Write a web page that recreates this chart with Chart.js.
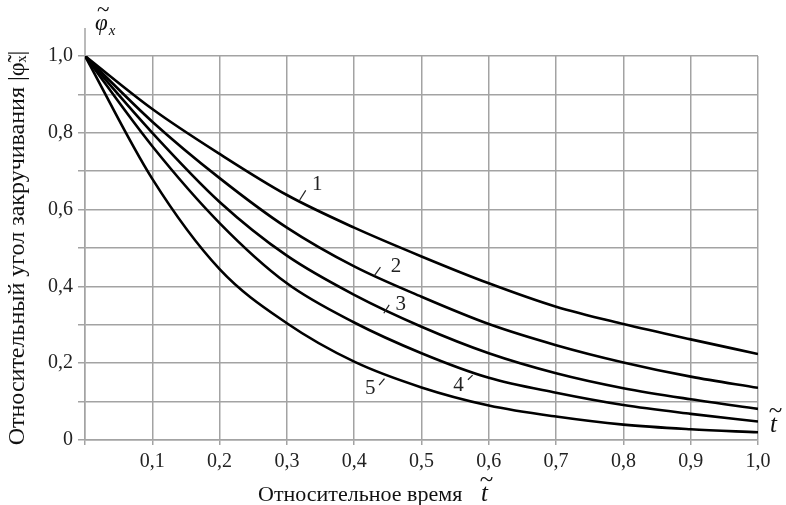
<!DOCTYPE html>
<html>
<head>
<meta charset="utf-8">
<script src="https://cdn.jsdelivr.net/npm/chart.js@4"></script>
<style>
  html, body { margin: 0; padding: 0; background: #fff; }
  #wrap { width: 786px; height: 505px; }
</style>
</head>
<body>
<div id="wrap"><canvas id="myChart" width="786" height="505"></canvas></div>
<script>
// relative time t
var xs = [0, 0.1, 0.2, 0.3, 0.4, 0.5, 0.6, 0.7, 0.8, 0.9, 1.0];

// relative twist angle, curves 1..5
var curve1 = [1, 0.862, 0.745, 0.638, 0.553, 0.478, 0.408, 0.347, 0.302, 0.262, 0.224];
var curve2 = [1, 0.829, 0.682, 0.553, 0.452, 0.373, 0.302, 0.247, 0.202, 0.165, 0.136];
var curve3 = [1, 0.800, 0.620, 0.480, 0.378, 0.295, 0.226, 0.174, 0.135, 0.106, 0.081];
var curve4 = [1, 0.765, 0.565, 0.408, 0.306, 0.226, 0.162, 0.123, 0.091, 0.068, 0.048];
var curve5 = [1, 0.680, 0.445, 0.304, 0.204, 0.137, 0.090, 0.061, 0.040, 0.028, 0.020];

var curveNames = ['1', '2', '3', '4', '5'];
// where the curve numbers sit (data coords) and their little leader strokes
var labelPos = [[0.345, 0.665], [0.462, 0.452], [0.469, 0.352], [0.555, 0.142], [0.424, 0.133]];
var leaderFrom = [[0.319, 0.625], [0.430, 0.428], [0.444, 0.330], [0.569, 0.157], [0.437, 0.143]];
var leaderTo = [[0.328, 0.650], [0.439, 0.450], [0.452, 0.352], [0.576, 0.169], [0.445, 0.160]];

var yTicksStep = 0.1;

function fmt(v) {
	if (Math.abs(v) < 1e-9) return '0';
	return v.toFixed(1).replace('.', ',');
}

function toPoints(ys) {
	return xs.map(function (x, i) { return { x: x, y: ys[i] }; });
}

var gridCol = '#a3a3a3';
var serif = '"Liberation Serif", "Times New Roman", serif';

// letter with a tilde drawn over it
function tildeText(ctx, ch, x, y, size) {
	ctx.font = 'italic ' + size + 'px ' + serif;
	ctx.fillText(ch, x, y);
	var w = ctx.measureText(ch).width;
	ctx.font = size + 'px ' + serif;
	ctx.textAlign = 'center';
	ctx.fillText('~', x + w / 2 + size * 0.08, y - size * 0.55);
	ctx.textAlign = 'left';
	return w;
}

var annotate = {
	id: 'annotate',
	afterDraw: function (chart) {
		var ctx = chart.ctx;
		var xS = chart.scales.x, yS = chart.scales.y;
		var area = chart.chartArea;
		ctx.save();

		// y axis keeps going above 1,0
		ctx.strokeStyle = gridCol;
		ctx.lineWidth = 1.5;
		ctx.beginPath();
		ctx.moveTo(area.left, area.top);
		ctx.lineTo(area.left, area.top - 28);
		ctx.stroke();

		// curve numbers
		ctx.fillStyle = '#222';
		ctx.strokeStyle = '#222';
		ctx.lineWidth = 1.2;
		ctx.font = '21px ' + serif;
		ctx.textAlign = 'center';
		ctx.textBaseline = 'middle';
		for (var i = 0; i < curveNames.length; i++) {
			ctx.fillText(curveNames[i], xS.getPixelForValue(labelPos[i][0]), yS.getPixelForValue(labelPos[i][1]));
			ctx.beginPath();
			ctx.moveTo(xS.getPixelForValue(leaderFrom[i][0]), yS.getPixelForValue(leaderFrom[i][1]));
			ctx.lineTo(xS.getPixelForValue(leaderTo[i][0]), yS.getPixelForValue(leaderTo[i][1]));
			ctx.stroke();
		}

		// phi label above the y axis
		ctx.fillStyle = '#111';
		ctx.textAlign = 'left';
		ctx.textBaseline = 'alphabetic';
		var w = tildeText(ctx, '\u03C6', area.left + 10, area.top - 26, 23);
		ctx.font = 'italic 15px ' + serif;
		ctx.fillText('x', area.left + 10 + w + 1, area.top - 21);

		// t at the end of x axis
		tildeText(ctx, 't', area.right + 12, area.bottom - 8, 25);

		// x axis title
		ctx.font = '22px ' + serif;
		ctx.fillText('Относительное время', 258, 501);
		tildeText(ctx, 't', 481, 501, 25);

		ctx.restore();
	}
};

var ctx = document.getElementById('myChart').getContext('2d');
var ds = [curve1, curve2, curve3, curve4, curve5].map(function (c, i) {
	return {
		label: curveNames[i],
		data: toPoints(c),
		borderColor: '#000',
		borderWidth: 2.6,
		pointRadius: 0,
		fill: false,
		cubicInterpolationMode: 'monotone'
	};
});

var chart = new Chart(ctx, {
	type: 'line',
	data: { datasets: ds },
	options: {
		responsive: false,
		animation: false,
		layout: { padding: { left: 3, right: 28, top: 56, bottom: 0 } },
		plugins: {
			legend: { display: false },
			tooltip: { enabled: false }
		},
		scales: {
			x: {
				type: 'linear',
				min: 0,
				max: 1,
				afterFit: function (s) { s.height = 65; },
				grid: { color: gridCol, lineWidth: 1.5, tickLength: 5 },
				border: { color: gridCol, width: 1.5 },
				ticks: {
					stepSize: 0.1,
					autoSkip: false,
					maxRotation: 0,
					padding: 5,
					color: '#222',
					font: { family: serif, size: 20 },
					callback: function (v) { return Math.abs(v) < 1e-9 ? '' : fmt(v); }
				}
			},
			y: {
				min: 0,
				max: 1,
				afterFit: function (s) { s.width = 82; },
				grid: { color: gridCol, lineWidth: 1.5, tickLength: 7 },
				border: { color: gridCol, width: 1.5 },
				title: {
					display: true,
					text: 'Относительный угол закручивания |\u03C6\u0303\u2093|',
					color: '#111',
					font: { family: serif, size: 24 },
					padding: { top: 0, bottom: 0 }
				},
				ticks: {
					stepSize: yTicksStep,
					autoSkip: false,
					padding: 5,
					color: '#222',
					font: { family: serif, size: 20 },
					callback: function (v) { return Math.round(v * 10) % 2 === 0 ? fmt(v) : ''; }
				}
			}
		}
	},
	plugins: [annotate]
});
</script>
</body>
</html>
